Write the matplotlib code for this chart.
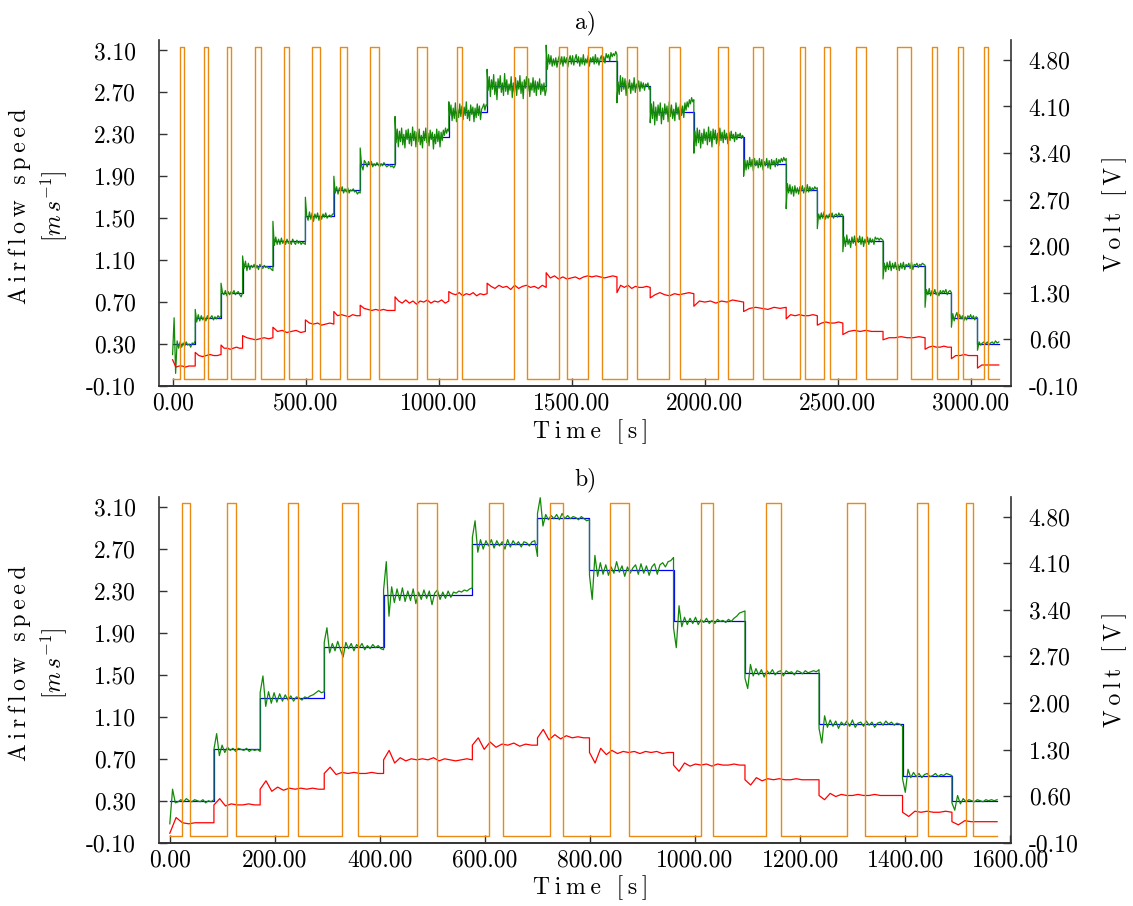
import numpy as np
import matplotlib
matplotlib.use("Agg")
import matplotlib.pyplot as plt
from matplotlib.ticker import FormatStrFormatter

plt.rcParams['font.family'] = ['cmr10', 'DejaVu Serif']
plt.rcParams['mathtext.fontset'] = 'cm'
plt.rcParams['axes.unicode_minus'] = False
plt.rcParams['font.size'] = 17

# ---------------------------
# panel a) data
# ---------------------------
a_edges = [0, 85, 182, 263, 377, 499, 606, 705, 836, 1038, 1182, 1404, 1670,
           1795, 1959, 2146, 2306, 2423, 2519, 2670, 2828, 2927, 3025, 3105]
a_setpoint = [0.30, 0.55, 0.79, 1.04, 1.28, 1.52, 1.77, 2.02, 2.27, 2.51, 2.76, 3.00,
              2.76, 2.51, 2.27, 2.02, 1.77, 1.52, 1.28, 1.04, 0.79, 0.55, 0.30]
# measured speed, deviation from set point per step [1/100 m/s]
a_speed_dev = [
    [-10, 25, -28, 3, -4, 2, -3, 1, -2, 2, -1, 0, -3, 1, 0, 3],
    [8, -4, 3, -3, 2, -2, 1, -3, 2, -1, 0, 2, -2, 1, -1, 2, 0, 2],
    [9, 0, -2, 2, -3, 1, -2, 1, -1, 2, -2, 0, 1, -2, -4, 0],
    [10, -2, 5, -4, 3, -3, 1, -1, 2, -2, 1, -3, 2, 0, -2, 1, -1, 0, -2, -1, -3, -4],
    [19, -4, 4, -3, 2, -3, 3, -2, 1, -3, 2, -2, 0, -3, 2, -1, -3, 1, -2, 0, -3, -1, -2, -3],
    [18, 0, -4, 4, -3, 3, -5, 2, -2, 3, -4, 1, -3, 2, -1, 3, -2, 0, 1, -1, 2, 2],
    [13, -3, 3, -4, 2, -1, 3, -3, 1, -2, 2, -3, 0, -1, 1, -2, -1, -4, -2, -3],
    [15, -2, -6, 3, 1, -3, 2, -1, 2, -3, 0, -2, 1, -1, -3, 0, -2, 1, -1, -3, -2, -1, -3,
     -2, -4, -2],
    [20, -5, 8, -9, 6, -4, 9, -7, 3, -10, 7, -2, 8, -6, 4, -8, 10, -3, 6, -9, 5, -4, 8,
     -7, 2, -10, 6, -3, 9, -5, 4, -8, 7, -2, 5, -11, 3, -6, 8, -4, 6, -9, 5, -3, 7, 2, 9,
     4, 8, 6],
    [10, -3, 7, -8, 4, -6, 9, -9, 3, -5, 8, -4, 6, -7, 5, -3, 10, -6, 2, -8, 7, -2, 5, -9,
     4, -5, 8, -3, 6, -7, 3, 5, 8, 2, 7, 6],
    [16, -4, 9, -10, 6, -3, 11, -8, 4, -13, 7, -2, 10, -6, 3, -9, 12, -5, 6, -8, 2, -4, 9,
     -11, 3, -6, 8, -9, 5, -3, 10, -7, 4, -12, 6, -2, 9, -5, 7, -10, 3, -4, 8, -6, 5, -9,
     4, -3, 7, -8, 2, -5, 3, -9, -4],
    [15, -8, 6, -3, 5, -5, 2, -4, 3, -6, 1, 5, -3, 4, -5, 4, -2, 3, -6, 1, 5, -3, 5, -4,
     2, 6, -2, 4, -5, 3, -3, 6, -4, 2, -2, 5, -5, 3, -1, 4, -3, 6, -2, 3, -4, 2, 5, -1, 4,
     -2, 7, 3, 6, 0, 8, 4, 7, 5, 9, 6],
    [-16, 4, -8, 10, -5, 8, -3, 7, -9, 5, -2, 6, -7, 3, -4, 8, -6, 2, -3, 5, -5, 4, -2, 3,
     -4, 2, 0, 3, -3, -1],
    [-10, 8, -6, 10, -12, 5, -8, 7, -3, 9, -11, 4, -7, 8, -2, 6, -9, 10, -4, 7, -6, 3, -8,
     9, -2, 5, -7, 8, -3, 6, -5, 9, 2, 10, 5, 12, 8, 14, 10, 12],
    [-15, 6, -8, 9, -5, 7, -10, 4, -6, 8, -3, 5, -7, 10, -4, 6, -9, 8, -2, 7, -6, 4, -8, 9,
     -3, 5, -5, 7, -2, 4, -6, 5, -3, 6, -1, 3, -4, 5, -2, 3, 1, 4, -1, 2, 0],
    [-12, 4, -6, 3, -5, 6, -3, 4, -7, 5, -2, 3, -4, 5, -3, 4, -6, 2, -2, 5, -4, 3, -5, 4,
     -1, 3, -3, 5, -2, 4, 1, 5, 2, 6, 3, 5],
    [-18, 6, -3, 5, -4, 3, -6, 4, -3, 2, -4, 3, -1, 4, -3, 2, -2, 5, -2, 3, -1, 2, 0, 3,
     1, 2],
    [-12, 2, -3, 3, -2, 4, -3, 1, -2, 2, -1, 3, -2, 1, 2, -1, 3, 0, 2, 1],
    [-10, 4, -5, 6, -3, 2, -6, 4, -2, 5, -4, 3, -1, 5, -3, 4, -5, 2, -2, 4, -3, 3, -1, 2,
     -3, 4, 2, 3, 1, 3, 2, 1],
    [-12, 3, -5, 4, -3, 5, -4, 3, -2, 4, -3, 2, -4, 3, -2, 4, -3, 2, 0, 3, -2, 4, -3, 2,
     1, 3, -1, 2, 1, 3, 2, 1],
    [-14, 3, -2, 4, -3, 2, -1, 3, -2, 1, -3, 2, -1, 2, 0, 3, -2, 1, 2, 0],
    [-9, 4, -3, 2, 5, -2, 3, -1, 2, -3, 1, -2, 2, 0, 3, -1, 2, -2, 1, 0],
    [-6, 2, -1, 1, 2, 0, 2, -1, 1, 2, 0, 3, 1, 2],
]
a_red_level = [0.09, 0.19, 0.26, 0.35, 0.42, 0.49, 0.57, 0.63, 0.70, 0.77, 0.84, 0.93,
               0.84, 0.77, 0.70, 0.64, 0.57, 0.50, 0.42, 0.36, 0.27, 0.19, 0.10]
a_red_dev = [
    [6, -1, 0, 0, -1, 0, 0, 0],
    [3, 0, -1, 0, 1, 0, 0, 1],
    [3, 0, 0, -1, 0, 1, 0, 0],
    [3, 1, 0, -1, 0, 1, 0, 1],
    [4, 0, 1, -1, 0, 1, -1, 0],
    [4, 1, 0, 1, -1, 0, 1, 0],
    [4, 0, 1, 0, -1, 1, 0, 0],
    [4, 1, 0, -1, 0, -1, 0, -1, -1, -1],
    [5, 1, -1, 2, -1, 1, -2, 1, 0, 2, -1, 1, 0, 2, -1, 1],
    [3, 1, 0, 2, -1, 1, 0, 2, -1, 1, 0, 1],
    [4, 1, -1, 2, 0, 1, -2, 2, -1, 1, 2, 0, 1, -1, 2, 0],
    [5, 0, 2, -1, 1, -1, 0, 1, -1, 1, 2, 1, 2, 1, 0, 1, 2, 1],
    [-5, 2, 0, 2, -1, 1, 0, 0, 1, 0],
    [-3, 0, 2, 0, -1, 1, 0, 1, 2, 1],
    [-4, 1, 0, 1, -1, 1, 0, 2, 1, 0],
    [-3, 0, 1, 0, -1, 1, 0, 1],
    [-3, 1, 0, 1, 0, 0, 1, 0],
    [-2, 0, 1, 0, 0, 1, 0],
    [-3, 0, 1, 0, 1, 0, 0, 0],
    [-2, 0, 0, 1, 0, 0, 1, 0],
    [-2, 0, 1, 0, 0, 1, 0, 0],
    [-3, 0, 0, 1, 0, 0, 0],
    [-3, 0, 0, 0, 0, 0],
]
a_pulse_on = [28, 118, 205, 310, 420, 525, 630, 742, 918, 1068, 1282, 1454, 1563, 1707,
              1865, 2048, 2180, 2357, 2450, 2570, 2722, 2854, 2950, 3048]
a_pulse_off = [43, 134, 218, 331, 439, 554, 654, 777, 956, 1088, 1333, 1481, 1615, 1746,
               1906, 2089, 2219, 2375, 2471, 2605, 2775, 2872, 2969, 3066]

# ---------------------------
# panel b) data
# ---------------------------
b_edges = [0, 84, 172, 294, 407, 576, 700, 799, 959, 1095, 1236, 1395, 1489, 1575]
b_setpoint = [0.30, 0.79, 1.28, 1.77, 2.26, 2.75, 3.00, 2.50, 2.01, 1.52, 1.03, 0.54, 0.30]
b_speed_dev = [
    [-22, 11, -2, -1, 1, -1, 2, 0, -1, 1, 0, -1, 1, -2, 0, -1, 1],
    [0, 15, -6, 4, -3, 2, -1, 1, -2, 1, 0, -1, 1, -2, 0, -1, 0, -2],
    [5, 21, -8, 6, -5, 5, -4, 4, -3, 3, -2, 2, -3, 1, 0, -2, 1, 0, 2, 3, 5, 7, 5, 6],
    [4, 18, -6, 3, -4, 5, -3, -10, 4, -2, 3, -4, 2, -1, 3, -3, 1, -2, 2, -1, 1, -2, -3],
    [5, 32, -20, 8, -7, 6, -5, 7, -6, 4, -5, 6, -8, 3, -4, 5, -3, 4, -9, 2, 5, -4, 3, -3, 4,
     -2, 3, 2, 4, 3, 5, 4, 6, 7],
    [6, 22, -8, 4, -5, 3, -2, 4, -4, 3, -2, 2, -5, 4, -3, 3, -1, 2, -3, 2, 1, -2, 2, 3, -12],
    [4, 19, -8, 3, -2, 2, -1, 3, -2, 4, -1, 2, -1, 1, 0, -2, 1, -1, -3, -2],
    [-5, -28, 14, -6, 7, -4, 5, -5, 3, -3, 8, -2, 4, -6, 3, -3, 2, 5, -4, 6, -3, 4, -5, 3, 6,
     -4, 5, 7, 3, 8, 9, 12],
    [-6, -25, 15, -5, 4, -3, 3, -2, 4, -3, 2, -1, 3, -2, 1, -2, 2, 0, 1, -1, 2, 0, 3, 5, 8,
     9, 10],
    [-5, -15, 8, -3, 4, -2, 3, -4, 2, -1, 3, -2, 1, 2, -3, 2, 0, 1, -2, 2, 1, -1, 2, 0, 1,
     2, 1, 3],
    [-4, -18, 8, -3, 4, -2, 3, -4, 2, -1, 3, -2, 4, -3, 1, 2, -2, 3, -1, 2, -3, 1, 2, -1, 3,
     0, 2, -1, 1, 0, -2],
    [-3, -16, 6, -2, 3, -1, 2, -2, 1, 2, -1, 0, 2, -1, 1, 0, 2, 1, 0],
    [-2, -9, 5, -3, 2, -1, 1, 0, -1, 1, 0, -1, 1, 0, 1, 0, 1],
]
b_red_level = [0.09, 0.26, 0.41, 0.56, 0.69, 0.83, 0.90, 0.76, 0.64, 0.50, 0.35, 0.19, 0.10]
b_red_dev = [
    [-10, 5, 0, -1, 0, 0, 0, 0],
    [0, 6, -1, 1, 0, 0, 1, 0, 0],
    [0, 8, -2, 2, -1, 1, 0, 1, 0, 1, 0, 0],
    [0, 6, -1, 1, 0, 1, 0, 0, 1, 0, 0],
    [0, 9, -3, 2, -1, 1, 0, 1, 0, 2, -1, 1, 0, -1, 0, 1, 0],
    [0, 7, -4, 3, -2, 1, 0, 2, -1, 1, 0, 0],
    [0, 8, -2, 3, -1, 2, 0, 1, 0, 0],
    [0, -10, 4, -2, 2, -1, 1, 0, 1, -1, 1, 0, 1, -1, 0, 0],
    [0, -6, 2, -1, 1, 0, 1, -1, 1, 0, 0, 1, 0, 0],
    [0, -5, 2, -1, 1, 0, 1, 0, 0, 1, 0, 0, 0, 0],
    [0, -4, 2, -1, 1, 0, 0, 1, 0, 0, 1, 0, 0, 0, 0, 0],
    [0, -4, 1, 0, 1, 0, 0, 1, 0],
    [0, -3, 1, 0, 0, 0, 0, 0],
]
b_pulse_on = [24, 109, 225, 327, 470, 608, 724, 839, 1011, 1135, 1290, 1422, 1515]
b_pulse_off = [39, 126, 244, 359, 509, 634, 748, 875, 1035, 1163, 1324, 1444, 1530]

PULSE_HIGH = 5.0

C_BLUE = '#0000ff'
C_GREEN = '#138a07'
C_RED = '#ff0000'
C_ORANGE = '#ea8a12'
C_AXIS = '#333333'
GAP = '\u200a\u200a'
WORD = '  '


def spaced(s):
    # loose letter spacing like the original labels
    return GAP.join(s)


def build_trace(edges, levels, devs):
    t_all, v_all = [], []
    for i, (lev, dev) in enumerate(zip(levels, devs)):
        t = np.linspace(edges[i], edges[i + 1], len(dev))
        t_all.append(t)
        v_all.append(lev + np.array(dev) / 100.0)
    return np.concatenate(t_all), np.concatenate(v_all)


def build_pulses(on, off, t_end):
    t = [0.0]
    v = [0.0]
    for a, b in zip(on, off):
        t += [a, a, b, b]
        v += [0.0, PULSE_HIGH, PULSE_HIGH, 0.0]
    t.append(t_end)
    v.append(0.0)
    return t, v


def draw_panel(ax, edges, setpoint, speed_dev, red_level, red_dev, p_on, p_off,
               xlim, xticks, title):
    ax.step(edges, setpoint + [setpoint[-1]], where='post', color=C_BLUE, lw=0.9)
    t_g, v_g = build_trace(edges, setpoint, speed_dev)
    ax.plot(t_g, v_g, color=C_GREEN, lw=0.9)
    t_r, v_r = build_trace(edges, red_level, red_dev)
    ax.plot(t_r, v_r, color=C_RED, lw=0.9)

    ax2 = ax.twinx()
    t_p, v_p = build_pulses(p_on, p_off, edges[-1])
    ax2.plot(t_p, v_p, color=C_ORANGE, lw=1.0)

    ax.set_xlim(*xlim)
    ax.set_ylim(-0.1, 3.2)
    ax2.set_ylim(-0.1, 5.1)
    ax.set_xticks(xticks)
    ax.set_yticks(np.arange(-0.1, 3.11, 0.4))
    ax2.set_yticks(np.arange(-0.1, 4.81, 0.7))
    ax.xaxis.set_major_formatter(FormatStrFormatter('%.2f'))
    ax.yaxis.set_major_formatter(FormatStrFormatter('%.2f'))
    ax2.yaxis.set_major_formatter(FormatStrFormatter('%.2f'))

    for a in (ax, ax2):
        a.spines['top'].set_visible(False)
        for s in a.spines.values():
            s.set_color(C_AXIS)
            s.set_linewidth(1.2)
    ax.spines['right'].set_visible(False)
    ax2.spines['left'].set_visible(False)

    ax.tick_params(axis='x', direction='in', length=5.5, width=1, color=C_AXIS, pad=4.5)
    ax.tick_params(axis='y', direction='in', length=5.5, width=1, color=C_AXIS, pad=17)
    ax2.tick_params(axis='y', direction='in', length=5.5, width=1, color=C_AXIS, pad=13)

    ax.set_xlabel(spaced('Time') + WORD + spaced('[s]'))
    ax.xaxis.set_label_coords(0.507, -0.095)
    ax.set_ylabel(spaced('Airflow') + WORD + spaced('speed') + '\n' + r'$[m\,s^{-1}]$',
                  linespacing=1.3)
    ax.yaxis.set_label_coords(-0.106, 0.52)
    ax2.set_ylabel(spaced('Volt') + WORD + spaced('[V]'))
    ax2.yaxis.set_label_coords(1.108, 0.5)
    ax.set_title(title, fontsize=17, pad=8)


fig = plt.figure(figsize=(11.33, 9.06), dpi=100)
ax_a = fig.add_axes([0.1406, 0.5740, 0.7515, 0.3819])
ax_b = fig.add_axes([0.1406, 0.0699, 0.7515, 0.3819])

draw_panel(ax_a, a_edges, a_setpoint, a_speed_dev, a_red_level, a_red_dev,
           a_pulse_on, a_pulse_off, (-50, 3150), np.arange(0, 3001, 500), 'a)')
draw_panel(ax_b, b_edges, b_setpoint, b_speed_dev, b_red_level, b_red_dev,
           b_pulse_on, b_pulse_off, (-20, 1601), np.arange(0, 1601, 200), 'b)')

fig.savefig('out.png', dpi=100)
